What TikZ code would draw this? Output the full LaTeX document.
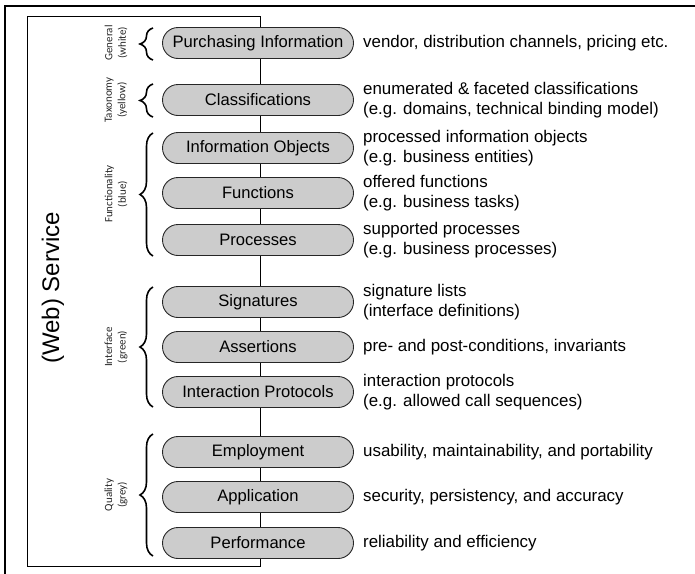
\documentclass[tikz,border=0pt]{standalone}
\usepackage{fontspec}
\setmainfont{Liberation Sans}
\newfontfamily\catfont{Carlito}
\usetikzlibrary{shapes.misc,decorations.pathreplacing,positioning}

\begin{document}
\begin{tikzpicture}[x=1pt,y=-1pt,
   blk/.style={rounded rectangle,draw=black!85,fill=black!20,line width=0.9pt,
     minimum width=191pt,minimum height=31pt,inner sep=0pt,
     font=\fontsize{16.6}{20}\selectfont},
   dsc/.style={right=9pt of #1,inner sep=0pt,align=left,
     font=\fontsize{16.9}{20}\selectfont},
   cat/.style={rotate=90,align=center,text=black!85,
     font=\catfont\fontsize{11}{13.5}\selectfont},
   brc/.style={decorate,decoration={brace,amplitude=13pt},line width=1.6pt}]
  \useasboundingbox (0,0) rectangle (695,573);
  % frame and service box (its right edge is the spine)
  \draw[line width=2pt] (5,574) -- (5,6) -- (696,6);
  \draw[line width=0.9pt] (27,16) rectangle (260,566);
  \node[rotate=90,font=\fontsize{24}{28}\selectfont] (ws) at (53,288) {(Web) Service};
  % aspects
  \node[blk] (pi) at (258,43) {Purchasing Information};
  \node[blk] (cl) at (258,100) {Classifications};
  \node[blk] (io) at (258,148) {Information Objects};
  \node[blk] (fn) at (258,193) {Functions};
  \node[blk] (pr) at (258,240) {Processes};
  \node[blk] (sg) at (258,302) {Signatures};
  \node[blk] (as) at (258,347) {Assertions};
  \node[blk] (ip) at (258,392) {Interaction Protocols};
  \node[blk] (em) at (258,452) {Employment};
  \node[blk] (ap) at (258,497) {Application};
  \node[blk] (pf) at (258,543) {Performance};
  % descriptions
  \node[dsc=pi] (dpi) {vendor, distribution channels, pricing etc.};
  \node[dsc=cl] (dcl) {enumerated \& faceted classifications\\(e.g. domains, technical binding model)};
  \node[dsc=io] (dio) {processed information objects\\(e.g. business entities)};
  \node[dsc=fn] (dfn) {offered functions\\(e.g. business tasks)};
  \node[dsc=pr] (dpr) {supported processes\\(e.g. business processes)};
  \node[dsc=sg] (dsg) {signature lists\\(interface definitions)};
  \node[dsc=as] (das) {pre- and post-conditions, invariants};
  \node[dsc=ip] (dip) {interaction protocols\\(e.g. allowed call sequences)};
  \node[dsc=em] (dem) {usability, maintainability, and portability};
  \node[dsc=ap] (dap) {security, persistency, and accuracy};
  \node[dsc=pf] (dpf) {reliability and efficiency};
  % groups
  \draw[brc] (153,60) -- (153,28);
  \draw[brc] (153,117) -- (153,84);
  \draw[brc] (153,256) -- (153,133);
  \draw[brc] (153,407) -- (153,287);
  \draw[brc] (153,556) -- (153,434);
  \node[cat] (gen) at (116,43) {General\\(white)};
  \node[cat] (tax) at (116,100) {Taxonomy\\(yellow)};
  \node[cat] (fun) at (116,194) {Functionality\\(blue)};
  \node[cat] (ifc) at (116,347) {Interface\\(green)};
  \node[cat] (qua) at (116,495) {Quality\\(grey)};
\end{tikzpicture}
\end{document}
